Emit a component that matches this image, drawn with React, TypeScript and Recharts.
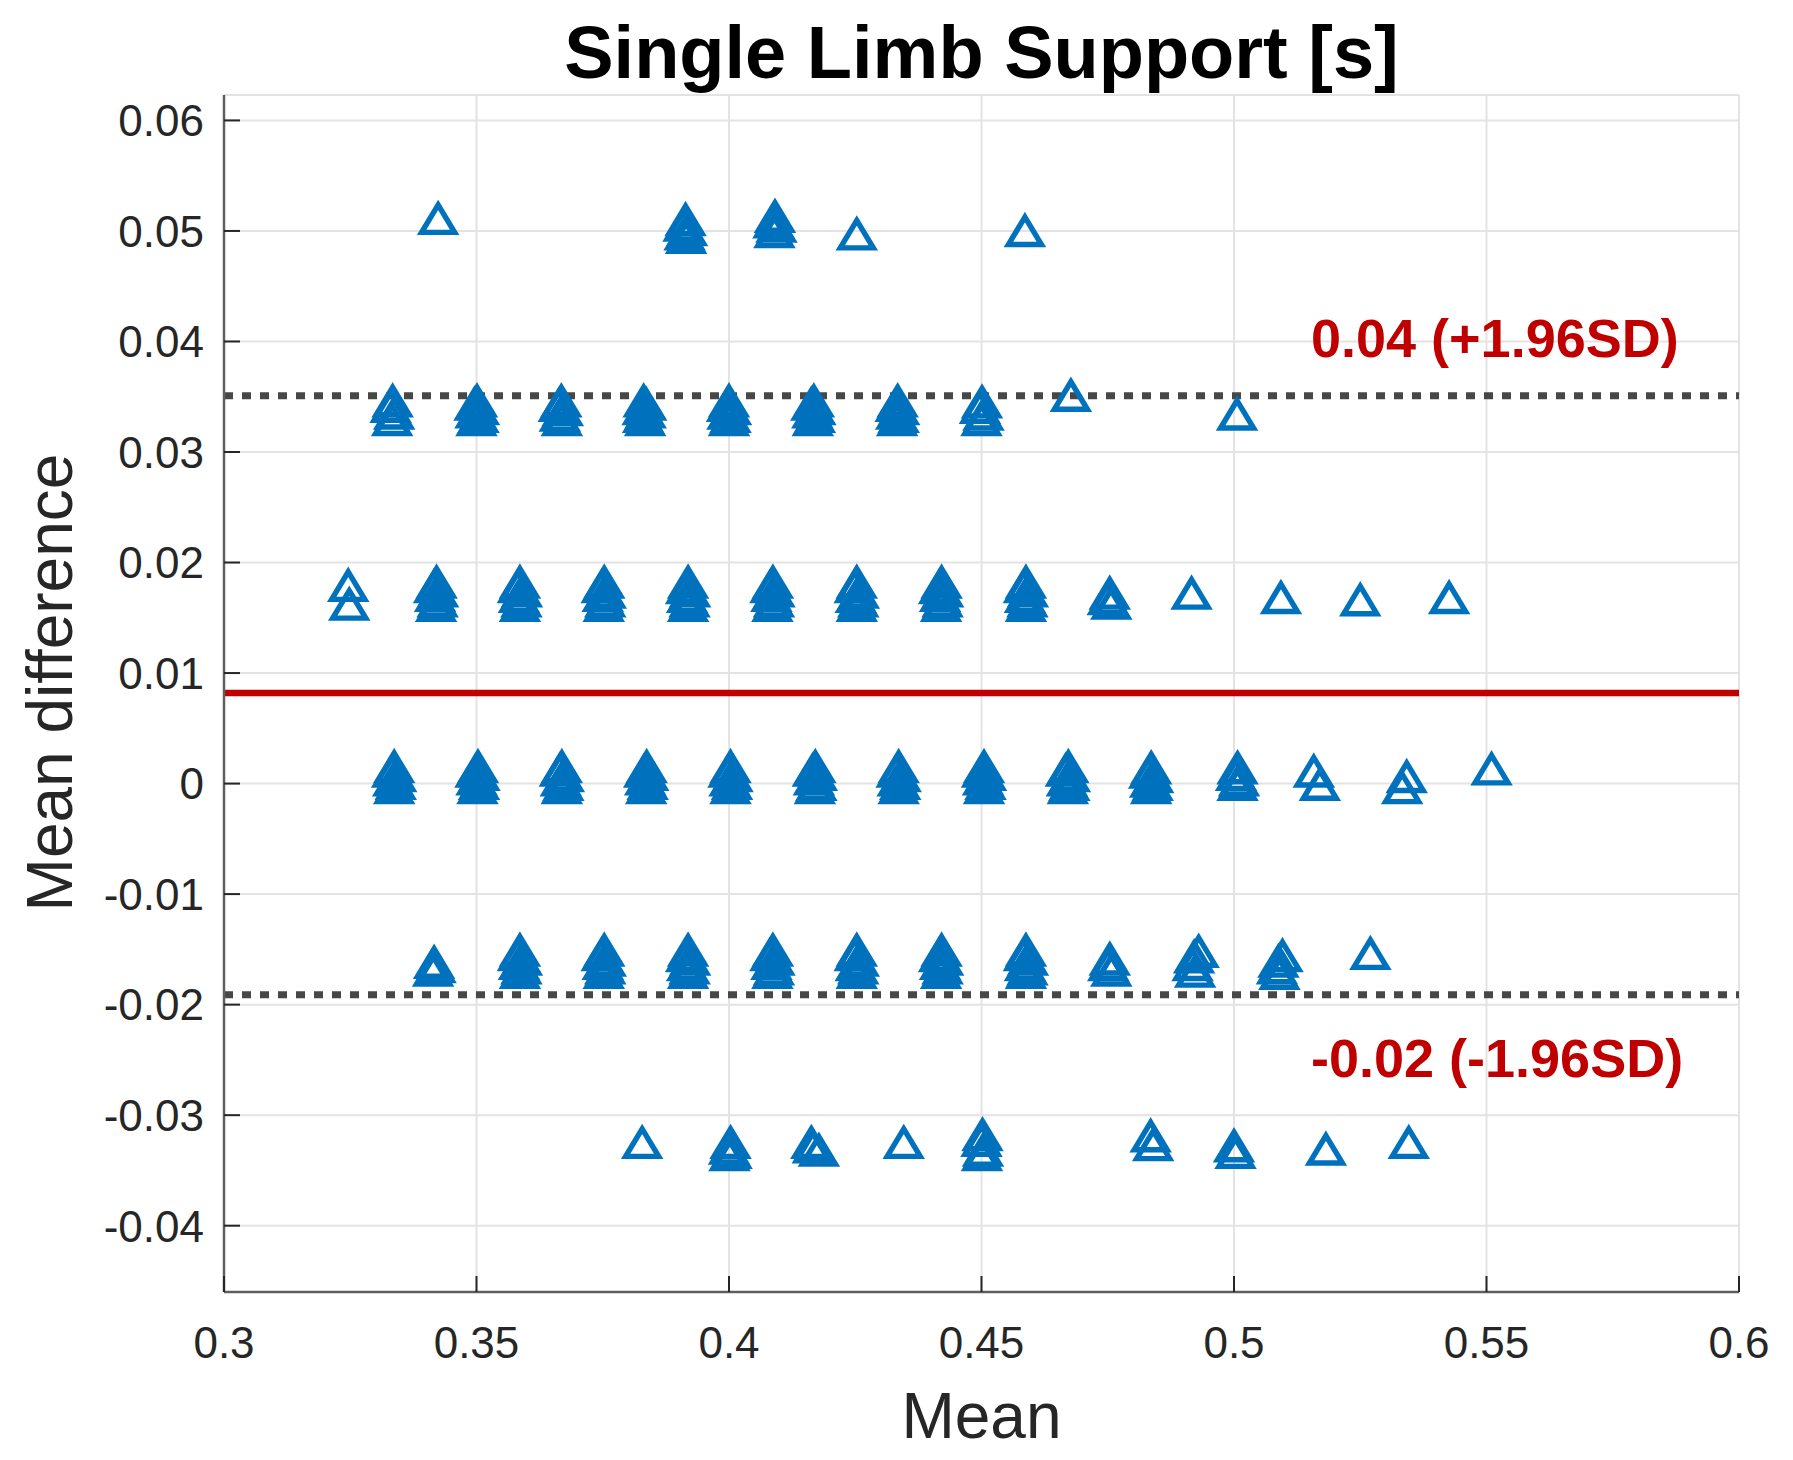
import { CartesianGrid, ReferenceLine, Scatter, ScatterChart, XAxis, YAxis } from 'recharts';

const xTicks = [0.3, 0.35, 0.4, 0.45, 0.5, 0.55, 0.6];
const yTicks = [-0.04, -0.03, -0.02, -0.01, 0, 0.01, 0.02, 0.03, 0.04, 0.05, 0.06];

const meanDiff = 0.0082;
const upperLimit = 0.0351;
const lowerLimit = -0.0191;
const upperLabel = '0.04 (+1.96SD)';
const lowerLabel = '-0.02 (-1.96SD)';

// [mean, difference] pairs, grouped by difference level
const row050: [number, number][] = [
	[0.3424, 0.0507],
	[0.3914, 0.0506], [0.391, 0.0501], [0.3917, 0.0497], [0.3912, 0.0493], [0.3915, 0.049],
	[0.4091, 0.0509], [0.4088, 0.0504], [0.4094, 0.05], [0.409, 0.0495],
	[0.4253, 0.0493],
	[0.4586, 0.0496],
];

const row033: [number, number][] = [
	[0.3334, 0.0342], [0.333, 0.0337], [0.3337, 0.0331], [0.3333, 0.0325],
	[0.3501, 0.0342], [0.3496, 0.0339], [0.3505, 0.0335], [0.3498, 0.0332], [0.3504, 0.0328], [0.35, 0.0325],
	[0.3668, 0.0342], [0.3663, 0.0338], [0.3671, 0.0334], [0.3665, 0.0329], [0.3669, 0.0325],
	[0.3831, 0.0342], [0.3836, 0.0339], [0.3829, 0.0335], [0.3835, 0.0332], [0.383, 0.0328], [0.3834, 0.0325],
	[0.4, 0.0342], [0.3996, 0.0338], [0.4004, 0.0335], [0.3997, 0.0331], [0.4003, 0.0328], [0.4, 0.0325],
	[0.4168, 0.0342], [0.4163, 0.0339], [0.4171, 0.0335], [0.4165, 0.0332], [0.417, 0.0328], [0.4166, 0.0325],
	[0.4334, 0.0342], [0.433, 0.0338], [0.4337, 0.0335], [0.4331, 0.0331], [0.4336, 0.0328], [0.4333, 0.0325],
	[0.4501, 0.0341], [0.4497, 0.0336], [0.4504, 0.033], [0.45, 0.0325],
	[0.4677, 0.0347],
	[0.5006, 0.033],
];

const row017: [number, number][] = [
	[0.3246, 0.0175], [0.3248, 0.0158],
	[0.3421, 0.0178], [0.3416, 0.0174], [0.3424, 0.017], [0.3418, 0.0166], [0.3423, 0.0161], [0.342, 0.0157],
	[0.3586, 0.0178], [0.3582, 0.0174], [0.359, 0.017], [0.3584, 0.0165], [0.3589, 0.0161], [0.3586, 0.0157],
	[0.3753, 0.0178], [0.3748, 0.0174], [0.3756, 0.0169], [0.375, 0.0166], [0.3755, 0.0161], [0.3752, 0.0157],
	[0.3919, 0.0178], [0.3915, 0.0173], [0.3923, 0.017], [0.3917, 0.0165], [0.3922, 0.0161], [0.3919, 0.0157],
	[0.4087, 0.0178], [0.4082, 0.0174], [0.409, 0.017], [0.4084, 0.0166], [0.4089, 0.0161], [0.4086, 0.0157],
	[0.4253, 0.0178], [0.4249, 0.0174], [0.4257, 0.0169], [0.4251, 0.0165], [0.4256, 0.0161], [0.4253, 0.0157],
	[0.4421, 0.0178], [0.4416, 0.0173], [0.4424, 0.017], [0.4418, 0.0166], [0.4423, 0.0161], [0.442, 0.0157],
	[0.4588, 0.0178], [0.4584, 0.0174], [0.4592, 0.017], [0.4586, 0.0165], [0.4591, 0.0161], [0.4588, 0.0157],
	[0.4754, 0.0168], [0.475, 0.0163], [0.4757, 0.0159],
	[0.4916, 0.0168],
	[0.5093, 0.0164],
	[0.525, 0.0162],
	[0.5426, 0.0164],
];

const row000: [number, number][] = [
	[0.3337, 0.0011], [0.3333, 0.0007], [0.3341, 0.0003], [0.3335, -0.0001], [0.334, -0.0004], [0.3337, -0.0008],
	[0.3503, 0.0011], [0.3498, 0.0007], [0.3506, 0.0004], [0.35, 0.0], [0.3505, -0.0004], [0.3502, -0.0008],
	[0.3669, 0.0011], [0.3665, 0.0008], [0.3673, 0.0003], [0.3667, -0.0001], [0.3672, -0.0005], [0.3669, -0.0008],
	[0.3837, 0.0011], [0.3832, 0.0007], [0.384, 0.0004], [0.3834, 0.0], [0.3839, -0.0004], [0.3836, -0.0008],
	[0.4003, 0.0011], [0.3999, 0.0007], [0.4007, 0.0003], [0.4001, -0.0001], [0.4006, -0.0004], [0.4003, -0.0008],
	[0.4171, 0.0011], [0.4166, 0.0008], [0.4174, 0.0004], [0.4168, 0.0], [0.4173, -0.0005], [0.417, -0.0008],
	[0.4336, 0.0011], [0.4332, 0.0007], [0.434, 0.0003], [0.4334, -0.0001], [0.4339, -0.0004], [0.4336, -0.0008],
	[0.4505, 0.0011], [0.4501, 0.0007], [0.4509, 0.0004], [0.4503, 0.0], [0.4508, -0.0004], [0.4505, -0.0008],
	[0.4672, 0.0011], [0.4667, 0.0008], [0.4675, 0.0003], [0.4669, -0.0001], [0.4674, -0.0005], [0.4671, -0.0008],
	[0.4836, 0.001], [0.4832, 0.0006], [0.484, 0.0002], [0.4834, -0.0002], [0.4839, -0.0005], [0.4836, -0.0008],
	[0.5007, 0.001], [0.5004, 0.0004], [0.501, -0.0001], [0.5007, -0.0005],
	[0.5158, 0.0007], [0.517, -0.0005],
	[0.5342, 0.0002], [0.5333, -0.0008],
	[0.551, 0.0009],
];

const rowM017: [number, number][] = [
	[0.3416, -0.0166], [0.3419, -0.017], [0.3414, -0.0173],
	[0.3586, -0.0155], [0.3582, -0.0159], [0.359, -0.0163], [0.3584, -0.0167], [0.3589, -0.0171], [0.3586, -0.0175],
	[0.3753, -0.0155], [0.3748, -0.0159], [0.3756, -0.0164], [0.375, -0.0167], [0.3755, -0.0171], [0.3752, -0.0175],
	[0.3919, -0.0155], [0.3915, -0.016], [0.3923, -0.0163], [0.3917, -0.0168], [0.3922, -0.0171], [0.3919, -0.0175],
	[0.4087, -0.0155], [0.4082, -0.0159], [0.409, -0.0163], [0.4084, -0.0167], [0.4089, -0.0172], [0.4086, -0.0175],
	[0.4253, -0.0155], [0.4249, -0.0159], [0.4257, -0.0164], [0.4251, -0.0168], [0.4256, -0.0171], [0.4253, -0.0175],
	[0.4421, -0.0155], [0.4416, -0.016], [0.4424, -0.0163], [0.4418, -0.0167], [0.4423, -0.0171], [0.442, -0.0175],
	[0.4588, -0.0155], [0.4584, -0.0159], [0.4592, -0.0163], [0.4586, -0.0168], [0.4591, -0.0172], [0.4588, -0.0175],
	[0.4754, -0.0163], [0.4751, -0.0168], [0.4757, -0.0173],
	[0.493, -0.0156], [0.4921, -0.0161], [0.4918, -0.0168], [0.4923, -0.0174],
	[0.5096, -0.016], [0.5088, -0.0165], [0.5085, -0.0171], [0.509, -0.0176],
	[0.527, -0.0158],
];

const rowM033: [number, number][] = [
	[0.3828, -0.0329],
	[0.4003, -0.0329], [0.4, -0.0334], [0.4005, -0.0338], [0.4001, -0.034],
	[0.4163, -0.0329], [0.4166, -0.0333], [0.4178, -0.0336],
	[0.4346, -0.0329],
	[0.4502, -0.0322], [0.45, -0.0327], [0.4503, -0.0336], [0.4501, -0.034],
	[0.4835, -0.0323], [0.484, -0.0331],
	[0.5, -0.0332], [0.5003, -0.0338],
	[0.5182, -0.0335],
	[0.5346, -0.0329],
];

const points = [...row050, ...row033, ...row017, ...row000, ...rowM017, ...rowM033].map(([x, y]) => ({ x, y }));

const FONT = '"Liberation Sans", Arial, Helvetica, sans-serif';
const AXIS_COLOR = '#262626';
const BLUE = '#0072BD';
const RED = '#C00000';

const W = 1785;
const H = 1452;
const MARGIN = { top: 87, right: 54, bottom: 68, left: 66 };
const Y_AXIS_W = 150;
const X_AXIS_H = 100;
const TICK_GAP = 20;

function Triangle(props: any) {
	const { cx, cy } = props;
	return (
		<path
			d={`M${cx},${cy - 18.3}L${cx + 16.5},${cy + 9.2}L${cx - 16.5},${cy + 9.2}Z`}
			fill="none"
			stroke={BLUE}
			strokeWidth={5.4}
			strokeLinejoin="miter"
		/>
	);
}

function YTick(props: any) {
	const { x, y, payload } = props;
	const axisX = x + TICK_GAP;
	return (
		<g>
			<line x1={axisX} x2={axisX + 16} y1={y} y2={y} stroke={AXIS_COLOR} strokeWidth={2} />
			<text x={x} y={y} dy="0.36em" textAnchor="end" fontSize={44} fill={AXIS_COLOR} fontFamily={FONT}>
				{payload.value}
			</text>
		</g>
	);
}

function XTick(props: any) {
	const { x, y, payload } = props;
	const axisY = y - 10;
	return (
		<g>
			<line x1={x} x2={x} y1={axisY} y2={axisY - 16} stroke={AXIS_COLOR} strokeWidth={2} />
			<text x={x} y={axisY + 66} textAnchor="middle" fontSize={44} fill={AXIS_COLOR} fontFamily={FONT}>
				{payload.value}
			</text>
		</g>
	);
}

function limitLabel(text: string, dy: number) {
	return (props: any) => {
		const vb = props.viewBox;
		return (
			<text
				x={vb.x + vb.width * 0.7175}
				y={vb.y + dy}
				fontSize={54}
				fontWeight="bold"
				fill={RED}
				fontFamily={FONT}
			>
				{text}
			</text>
		);
	};
}

export default function App() {
	const plotLeft = MARGIN.left + Y_AXIS_W;
	const plotRight = W - MARGIN.right;
	const plotTop = MARGIN.top;
	const plotBottom = H - MARGIN.bottom - X_AXIS_H;
	const midX = (plotLeft + plotRight) / 2;
	const midY = (plotTop + plotBottom) / 2 - 11;

	return (
		<div style={{ position: 'relative', width: W, height: H, background: '#fff', fontFamily: FONT }}>
			<ScatterChart width={W} height={H} margin={MARGIN}>
				<CartesianGrid stroke="#e3e3e3" strokeWidth={2} />
				<XAxis
					type="number"
					dataKey="x"
					domain={[0.3, 0.6]}
					ticks={xTicks}
					interval={0}
					height={X_AXIS_H}
					tickSize={0}
					tickMargin={10}
					tick={XTick}
					axisLine={{ stroke: '#5f5f5f', strokeWidth: 2.5 }}
				/>
				<YAxis
					type="number"
					dataKey="y"
					domain={[-0.046, 0.0623]}
					ticks={yTicks}
					interval={0}
					width={Y_AXIS_W}
					tickSize={0}
					tickMargin={TICK_GAP}
					tick={YTick}
					axisLine={{ stroke: '#5f5f5f', strokeWidth: 2.5 }}
				/>
				<Scatter data={points} shape={Triangle} isAnimationActive={false} />
				<ReferenceLine y={meanDiff} stroke={RED} strokeWidth={6.5} />
				<ReferenceLine
					y={upperLimit}
					stroke="#474747"
					strokeWidth={7}
					strokeDasharray="9 9"
					label={limitLabel(upperLabel, -39)}
				/>
				<ReferenceLine
					y={lowerLimit}
					stroke="#474747"
					strokeWidth={7}
					strokeDasharray="9 9"
					label={limitLabel(lowerLabel, 82)}
				/>
			</ScatterChart>
			<svg width={W} height={H} style={{ position: 'absolute', left: 0, top: 0, pointerEvents: 'none' }}>
				<text x={midX} y={70} textAnchor="middle" fontSize={74} fontWeight="bold" fill="#000" fontFamily={FONT}>
					Single Limb Support [s]
				</text>
				<text x={midX} y={1430} textAnchor="middle" fontSize={64} fill={AXIS_COLOR} fontFamily={FONT}>
					Mean
				</text>
				<text
					x={64}
					y={midY}
					textAnchor="middle"
					fontSize={64}
					fill={AXIS_COLOR}
					fontFamily={FONT}
					transform={`rotate(-90, 64, ${midY})`}
				>
					Mean difference
				</text>
			</svg>
		</div>
	);
}
